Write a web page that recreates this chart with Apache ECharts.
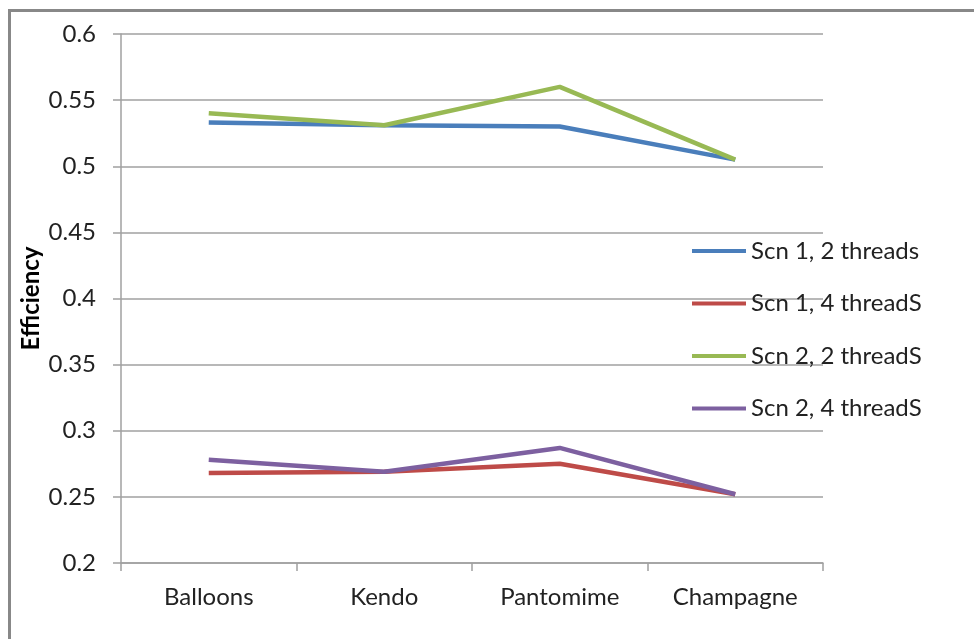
<!DOCTYPE html>
<html>
<head>
<meta charset="utf-8">
<script src="https://cdn.jsdelivr.net/npm/echarts@6/dist/echarts.min.js"></script>
<style>
  html, body { margin: 0; padding: 0; background: #fff; }
  #chart { width: 974px; height: 639px; }
</style>
</head>
<body>
<div id="chart"></div>
<script>
// Efficiency per sequence for each scenario / thread count
const categories = ['Balloons', 'Kendo', 'Pantomime', 'Champagne'];
const scn1Threads2 = [0.533, 0.531, 0.530, 0.505];
const scn1Threads4 = [0.268, 0.269, 0.275, 0.252];
const scn2Threads2 = [0.540, 0.531, 0.560, 0.505];
const scn2Threads4 = [0.278, 0.269, 0.287, 0.252];
const seriesNames = ['Scn 1, 2 threads', 'Scn 1, 4 threadS', 'Scn 2, 2 threadS', 'Scn 2, 4 threadS'];
const seriesColors = ['#4a7ebb', '#be4b48', '#98b954', '#7d60a0'];
const yTicks = { min: 0.2, max: 0.6, interval: 0.05 };

const FONT = 'Lato, "Open Sans", sans-serif';
const TEXT = '#222';

const chart = echarts.init(document.getElementById('chart'), null, { renderer: 'canvas' });

const seriesData = [scn1Threads2, scn1Threads4, scn2Threads2, scn2Threads4];

chart.setOption({
  animation: false,
  backgroundColor: '#fff',
  graphic: [
    {
      type: 'polyline',
      shape: { points: [[9.5, 639], [9.5, 10.5], [974, 10.5]] },
      style: { stroke: '#888', lineWidth: 3, fill: null },
      z: 0
    }
  ],
  grid: { left: 121, right: 151, top: 34, bottom: 76, containLabel: false },
  legend: {
    orient: 'vertical',
    left: 692,
    top: 239,
    padding: 0,
    icon: 'rect',
    itemWidth: 54,
    itemHeight: 4,
    itemGap: 28.5,
    textStyle: { fontFamily: FONT, fontSize: 24, color: TEXT },
    data: seriesNames
  },
  xAxis: {
    type: 'category',
    data: categories,
    boundaryGap: true,
    axisLine: { lineStyle: { color: '#a0a0a0', width: 1.5 } },
    axisTick: { show: true, length: 8, lineStyle: { color: '#a0a0a0', width: 1.5 } },
    axisLabel: { fontFamily: FONT, fontSize: 24, color: TEXT, margin: 22 },
    splitLine: { show: false }
  },
  yAxis: {
    type: 'value',
    min: yTicks.min,
    max: yTicks.max,
    interval: yTicks.interval,
    name: 'Efficiency',
    nameLocation: 'middle',
    nameGap: 78,
    nameMoveOverlap: false,
    nameRotate: 90,
    nameTextStyle: { fontFamily: FONT, fontSize: 24, fontWeight: 'bold', color: '#000' },
    axisLine: { show: true, lineStyle: { color: '#a0a0a0', width: 1.5 } },
    axisTick: { show: true, length: 8, lineStyle: { color: '#a0a0a0', width: 1.5 } },
    axisLabel: {
      fontFamily: FONT, fontSize: 24, color: TEXT, margin: 25,
      formatter: v => String(parseFloat(v.toFixed(2)))
    },
    splitLine: { lineStyle: { color: '#a0a0a0', width: 1.5 } }
  },
  series: seriesNames.map((name, i) => ({
    name,
    type: 'line',
    data: seriesData[i],
    symbol: 'none',
    color: seriesColors[i],
    lineStyle: { width: 4.5, color: seriesColors[i] },
    z: 3 + (i === 2 || i === 3 ? 1 : 0)
  }))
});
</script>
</body>
</html>
